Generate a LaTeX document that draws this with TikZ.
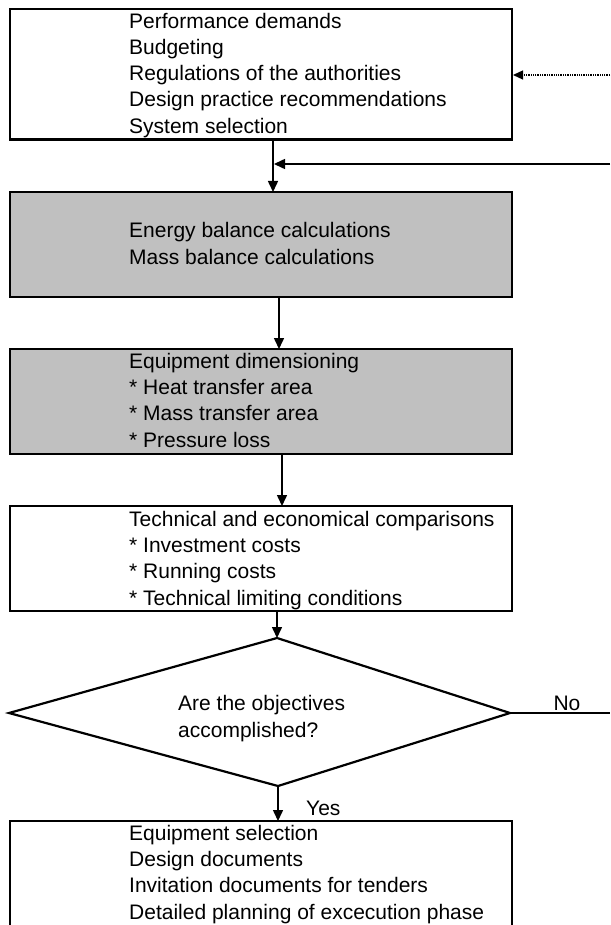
\documentclass[tikz,border=0pt]{standalone}
\usepackage{fontspec}
\setmainfont{Liberation Sans}
\usetikzlibrary{arrows.meta}
\begin{document}
\begin{tikzpicture}[x=1pt,y=-1pt,
  boxw/.style={draw=black,line width=2.2pt,fill=white},
  boxg/.style={draw=black,line width=2.2pt,fill=boxgray},
  txt/.style={anchor=base west,inner sep=0pt,align=left,font=\fontsize{21}{26.2}\selectfont},
  lbl/.style={inner sep=0pt,font=\fontsize{21}{26.2}\selectfont},
  arr/.style={line width=1.5pt,-{Triangle[length=11pt,width=10pt]}},
  darr/.style={line width=1.3pt,densely dotted,-{Triangle[length=10pt,width=9pt]}},
  plain/.style={line width=1.8pt}]
\definecolor{boxgray}{RGB}{192,192,192}
\useasboundingbox (0,0) rectangle (610,925);
\clip (0,0) rectangle (610,925);
\fill[white] (0,0) rectangle (610,925);

% boxes (text nodes are anchored at the baseline of their last line)
\path[boxw] (10,9) rectangle (512,139.5);
\node[txt] (t1) at (129,133.1) {Performance demands\\Budgeting\\Regulations of the authorities\\Design practice recommendations\\System selection};

\path[boxg] (10,192) rectangle (512,297);
\node[txt] (t2) at (129,264) {Energy balance calculations\\Mass balance calculations};

\path[boxg] (10,349) rectangle (512,454);
\node[txt] (t3) at (129,447) {Equipment dimensioning\\* Heat transfer area\\* Mass transfer area\\* Pressure loss};

\path[boxw] (10,506) rectangle (512,611);
\node[txt] (t4) at (129,605) {Technical and economical comparisons\\* Investment costs\\* Running costs\\* Technical limiting conditions};

\draw[line width=2.2pt,line join=miter,fill=white] (277,638) -- (510,713) -- (278,786) -- (9,713) -- cycle;
\node[txt] (t5) at (178,737) {Are the objectives\\accomplished?};

\path[boxw] (10,821) rectangle (512,926.5);
\node[txt] (t6) at (129,919) {Equipment selection\\Design documents\\Invitation documents for tenders\\Detailed planning of excecution phase};

% named connector end points
\coordinate (c1a) at (273,139.5); \coordinate (c1b) at (273,192);
\coordinate (c2a) at (279,297);   \coordinate (c2b) at (279,349);
\coordinate (c3a) at (282,454);   \coordinate (c3b) at (282,506);
\coordinate (c4a) at (277,611);   \coordinate (c4b) at (277,638);
\coordinate (c5a) at (278,786);   \coordinate (c5b) at (278,821);
\coordinate (dR) at (510,713);    \coordinate (noEnd) at (610,713);
\coordinate (retIn) at (610,164); \coordinate (retTip) at (274,164);
\coordinate (dotIn) at (610,75);  \coordinate (dotTip) at (513,75);

\draw[arr] (c1a) -- (c1b);
\draw[arr] (retIn) -- (retTip);
\draw[darr] (dotIn) -- (dotTip);
\draw[arr] (c2a) -- (c2b);
\draw[arr] (c3a) -- (c3b);
\draw[arr] (c4a) -- (c4b);
\draw[arr] (c5a) -- (c5b);
\draw[plain] (dR) -- (noEnd);

\node[lbl,anchor=base] (no) at (567,710) {No};
\node[lbl,anchor=base west] (yes) at (306,815) {Yes};
\end{tikzpicture}
\end{document}
